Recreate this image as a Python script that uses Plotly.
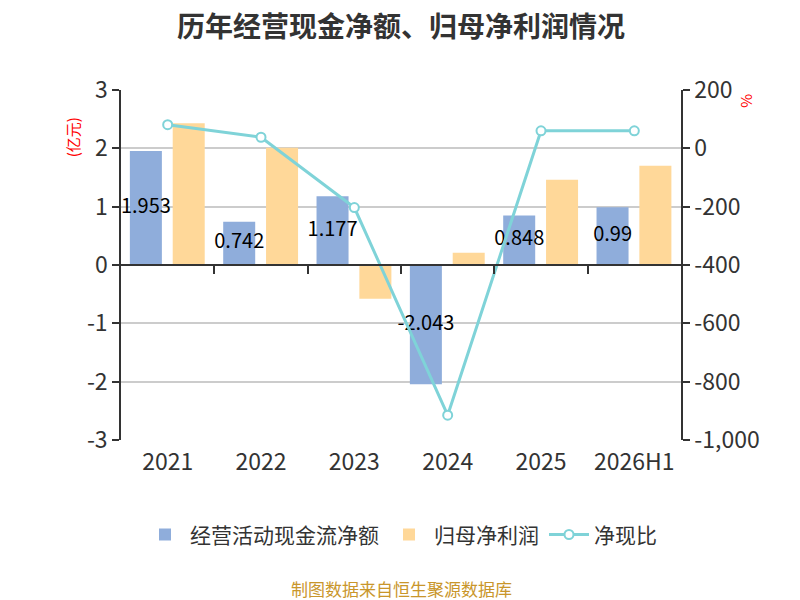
import plotly.graph_objects as go

# data
years = ["2021", "2022", "2023", "2024", "2025", "2026H1"]
cash_flow = [1.953, 0.742, 1.177, -2.043, 0.848, 0.99]      # 经营活动现金流净额 (亿元)
net_profit = [2.43, 2.01, -0.58, 0.21, 1.46, 1.70]          # 归母净利润 (亿元)
cash_ratio = [81, 38, -203, -915, 60, 60]                   # 净现比 (%)

left_ticks = [-3, -2, -1, 0, 1, 2, 3]
left_labels = ["-3", "-2", "-1", "0", "1", "2", "3"]
right_ticks = [-1000, -800, -600, -400, -200, 0, 200]
right_labels = ["-1,000", "-800", "-600", "-400", "-200", "0", "200"]

blue = "#8FADDB"
orange = "#FFD899"
teal = "#7FD3D8"
axis_col = "#333333"
font_main = "Noto Sans CJK SC"

idx = list(range(len(years)))

fig = go.Figure()

fig.add_trace(go.Bar(
    x=idx, y=cash_flow, name="经营活动现金流净额",
    marker=dict(color=blue, line=dict(width=0)),
    width=0.343, offset=-0.405,
))
fig.add_trace(go.Bar(
    x=idx, y=net_profit, name="归母净利润",
    marker=dict(color=orange, line=dict(width=0)),
    width=0.343, offset=0.054,
))

# value labels centred in the blue bars
fig.add_trace(go.Scatter(
    x=[i - 0.233 for i in idx], y=[v / 2 for v in cash_flow],
    mode="text", text=[str(v) for v in cash_flow],
    textfont=dict(size=20, color="black", family=font_main),
    showlegend=False, hoverinfo="skip",
))

fig.add_trace(go.Scatter(
    x=idx, y=cash_ratio, name="净现比",
    xaxis="x2", yaxis="y2",
    mode="lines+markers",
    line=dict(color=teal, width=3),
    marker=dict(symbol="circle", size=9, color="white",
                line=dict(color=teal, width=2)),
))

# the page body adds an 8px offset, so margins are pulled in by 8
fig.update_layout(
    width=800, height=600,
    margin=dict(l=113, r=127, t=82, b=168),
    plot_bgcolor="white", paper_bgcolor="white",
    font=dict(family=font_main, color=axis_col),
    barmode="overlay",
    xaxis=dict(
        range=[-0.5, 5.5], tickvals=idx, ticktext=years,
        ticks="", showline=False, showgrid=False, zeroline=False,
        tickfont=dict(size=23, color=axis_col), ticklabelstandoff=6,
    ),
    xaxis2=dict(
        overlaying="x", anchor="free", position=0.5,
        range=[-0.5, 5.5], tickvals=[0.5, 1.5, 2.5, 3.5, 4.5],
        ticks="outside", ticklen=8, tickwidth=1.5, tickcolor=axis_col,
        showticklabels=False, showline=True, linecolor=axis_col,
        linewidth=1.5, showgrid=False, zeroline=False,
    ),
    yaxis=dict(
        range=[-3, 3], tickvals=left_ticks, ticktext=left_labels,
        ticks="outside", ticklen=7, tickwidth=1.5, tickcolor=axis_col,
        showline=True, linecolor=axis_col, linewidth=1.5,
        showgrid=True, gridcolor="#CCCCCC", gridwidth=1.5, zeroline=False,
        tickfont=dict(size=23, color=axis_col),
    ),
    yaxis2=dict(
        overlaying="y", side="right", anchor="x",
        range=[-1000, 200], tickvals=right_ticks, ticktext=right_labels,
        ticks="outside", ticklen=7, tickwidth=1.5, tickcolor=axis_col,
        showline=True, linecolor=axis_col, linewidth=1.5,
        showgrid=False, zeroline=False,
        tickfont=dict(size=23, color=axis_col),
    ),
    legend=dict(
        orientation="h", x=0.5, xanchor="center", y=-0.271, yanchor="middle",
        font=dict(size=21, color=axis_col), itemwidth=40,
        traceorder="normal",
    ),
    showlegend=True,
)

fig.add_annotation(
    text="<b>历年经营现金净额、归母净利润情况</b>", xref="paper", yref="paper",
    x=0.5, y=1.185, yanchor="middle", showarrow=False,
    font=dict(size=28, color=axis_col),
)
fig.add_annotation(
    text="(亿元)", xref="paper", yref="paper", x=-0.109, y=0.929,
    showarrow=False, textangle=-90, font=dict(size=15, color="red"),
)
fig.add_annotation(
    text="%", xref="paper", yref="paper", x=1.136, y=0.994,
    showarrow=False, textangle=-90, font=dict(size=15, color="red"),
)
fig.add_annotation(
    text="制图数据来自恒生聚源数据库", xref="paper", yref="paper",
    x=0.5, y=-0.423, yanchor="middle", showarrow=False,
    font=dict(size=17, color="#C9962B"),
)

fig.write_html("out.html")
